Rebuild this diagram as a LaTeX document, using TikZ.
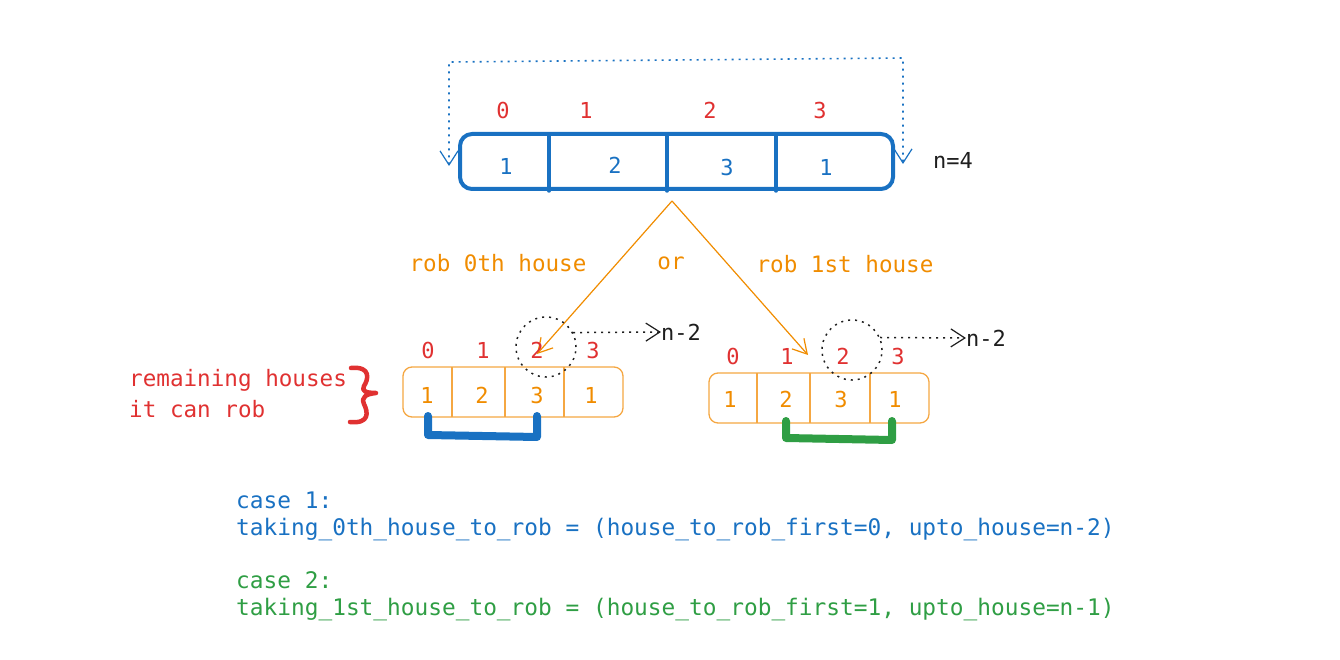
\documentclass[tikz,border=0pt]{standalone}
\usepackage{fontspec}
\setmonofont{DejaVu Sans Mono}
\usetikzlibrary{arrows.meta,calc}
\definecolor{xblue}{HTML}{1971C2}
\definecolor{xred}{HTML}{E03131}
\definecolor{xorange}{HTML}{F08C00}
\definecolor{xlorange}{HTML}{F5A742}
\definecolor{xgreen}{HTML}{2F9E44}
\definecolor{xblack}{HTML}{1E1E1E}
\begin{document}
\begin{tikzpicture}[x=1pt,y=-1pt,
  every node/.style={font=\ttfamily, inner sep=0pt},
  idx/.style={text=xred, font=\ttfamily\fontsize{22}{26}\selectfont},
  topval/.style={text=xblue, font=\ttfamily\fontsize{22}{26}\selectfont},
  smval/.style={text=xorange, font=\ttfamily\fontsize{22}{26}\selectfont},
  lbl/.style={text=xorange, font=\ttfamily\fontsize{22.6}{26}\selectfont},
  bigarr/.style={draw=xblue, line width=4pt, rounded corners=12pt, minimum width=433pt, minimum height=55pt},
  smarr/.style={draw=xlorange, line width=1.3pt, rounded corners=9pt, minimum width=220pt, minimum height=50pt},
  topdiv/.style={xblue, line width=3.5pt, line cap=round},
  smdiv/.style={xlorange, line width=1.3pt},
  orarrow/.style={xorange, line width=1.2pt, -{Straight Barb[length=14pt,width=16pt,line width=1.2pt]}},
  dotcirc/.style={circle, draw=xblack, line width=1.5pt, dash pattern=on 2pt off 5pt, minimum size=60pt},
  dotarrow/.style={xblack, line width=1.5pt, dash pattern=on 2pt off 5pt, -{Straight Barb[length=14pt,width=18pt,line width=1.2pt]}},
  bracket/.style={line width=8pt, line cap=round, line join=round},
  note/.style={text=xblack, font=\ttfamily\fontsize{22}{26}\selectfont},
  code/.style={anchor=west, font=\ttfamily\fontsize{22.8}{27}\selectfont}
]
\useasboundingbox (0,0) rectangle (1340,660);

% ---------- top array ----------
\node[bigarr] (arr) at (676.5,161.5) {};
\draw[topdiv] (549,134) -- (549,191);
\draw[topdiv] (667,134) -- (667,191);
\draw[topdiv] (776,134) -- (776,191);
\node[topval] (t0) at (506,166) {1};
\node[topval] (t1) at (615,165) {2};
\node[topval] (t2) at (727,167) {3};
\node[topval] (t3) at (826,167) {1};
\node[idx] (i0) at (503,110) {0};
\node[idx] (i1) at (586,110) {1};
\node[idx] (i2) at (710,110) {2};
\node[idx] (i3) at (820,110) {3};
\node[note] (n4) at (953,160) {n=4};

% dotted loop
\coordinate (lt) at (449,166);
\coordinate (rt) at (903,164);
\draw[xblue, line width=1.6pt, dash pattern=on 2pt off 5pt,
  {Straight Barb[length=14pt,width=18pt,line width=1.2pt]}-{Straight Barb[length=14pt,width=18pt,line width=1.2pt]}]
  (lt) -- (449,62) -- (903,58) -- (rt);

% ---------- branches ----------
\coordinate (split) at (672,201);
\node[smarr] (la) at (513,392) {};
\node[smarr] (ra) at (819,398) {};
\draw[orarrow] (split) -- (537,354);
\draw[orarrow] (split) -- (808,355);
\node[lbl] (l0) at (498,263) {rob 0th house};
\node[lbl] (lor) at (671,263) {or};
\node[lbl] (l1) at (845,264) {rob 1st house};

% left small array
\draw[smdiv] (452,367) -- (452,417);
\draw[smdiv] (505,367) -- (505,417);
\draw[smdiv] (564,367) -- (564,417);
\node[smval] (a0) at (427,395) {1};
\node[smval] (a1) at (482,395) {2};
\node[smval] (a2) at (537,395) {3};
\node[smval] (a3) at (591,395) {1};
\node[idx] (j0) at (428,350) {0};
\node[idx] (j1) at (483,350) {1};
\node[idx] (j2) at (537,350) {2};
\node[idx] (j3) at (593,350) {3};
\node[dotcirc] (c1) at (546,347) {};
\node[note] (m1) at (681,332) {n-2};
\draw[dotarrow] (c1.28) -- (m1.west);
\draw[xblue, bracket] (428,416) -- (428,435) -- (537,437) -- (537,416);

% right small array
\draw[smdiv] (757,373) -- (757,423);
\draw[smdiv] (810,373) -- (810,423);
\draw[smdiv] (870,373) -- (870,423);
\node[smval] (b0) at (730,399) {1};
\node[smval] (b1) at (786,399) {2};
\node[smval] (b2) at (841,399) {3};
\node[smval] (b3) at (895,399) {1};
\node[idx] (k0) at (733,356) {0};
\node[idx] (k1) at (787,356) {1};
\node[idx] (k2) at (843,356) {2};
\node[idx] (k3) at (898,356) {3};
\node[dotcirc] (c2) at (852,350) {};
\node[note] (m2) at (986,338) {n-2};
\draw[dotarrow] (c2.24) -- (m2.west);
\draw[xgreen, bracket] (786,421) -- (786,438) -- (892,440) -- (892,421);

% remaining houses note
\node[text=xred, anchor=west, align=left, font=\ttfamily\fontsize{22.6}{31}\selectfont] (rem) at (129,394)
  {remaining houses\\it can rob};
\draw[xred, line width=4.5pt, line cap=round, line join=round]
  (351,368) .. controls (372,366) and (368,380) .. (364,386)
  .. controls (361,391) and (366,393) .. (376,393)
  .. controls (366,394) and (361,397) .. (364,404)
  .. controls (368,412) and (370,424) .. (350,422);

% ---------- cases ----------
\node[code, text=xblue] (c1t) at (236,500) {case 1:};
\node[code, text=xblue] (c1e) at (236,530) {taking\_0th\_house\_to\_rob = (house\_to\_rob\_first=0, upto\_house=n-2)};
\node[code, text=xgreen] (c2t) at (236,580) {case 2:};
\node[code, text=xgreen] (c2e) at (236,610) {taking\_1st\_house\_to\_rob = (house\_to\_rob\_first=1, upto\_house=n-1)};
\end{tikzpicture}
\end{document}
